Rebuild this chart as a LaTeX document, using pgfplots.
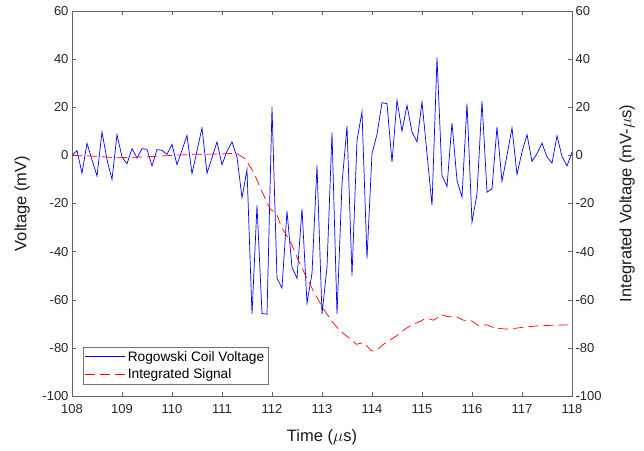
\documentclass[border=0pt]{standalone}
\usepackage{fontspec}
\setmainfont{Liberation Sans}
\usepackage{pgfplots}
\pgfplotsset{compat=1.18}

\pgfplotsset{
  matlabaxis/.style={
    width=500pt, height=385pt, scale only axis,
    xmin=108, xmax=118, ymin=-100, ymax=60,
    ytick={-100,-80,...,60},
    tick align=inside,
    major tick length=4pt,
    axis line style={black!60, line width=0.5pt},
    tick style={black!60, line width=0.5pt},
    /pgf/number format/assume math mode=true,
    ticklabel style={font=\fontsize{13}{15}\selectfont, text=black!85},
    label style={font=\fontsize{16.5}{20}\selectfont, text=black!90},
  }
}

\begin{document}
\begin{tikzpicture}
% left axis: coil voltage
\begin{axis}[
  matlabaxis,
  xtick={108,...,118},
  xtick pos=both,
  ytick pos=left,
  xticklabel style={yshift=-5pt},
  xlabel={Time ($\mu$s)},
  ylabel={Voltage (mV)},
  xlabel style={at={(axis description cs:0.5,-0.1065)}, anchor=center},
  ylabel style={at={(axis description cs:-0.1,0.5)}, anchor=center},
]
\addplot[draw=blue, line width=0.7pt] coordinates {
  (108.0,0) (108.1,2) (108.2,-7.4) (108.3,5) (108.4,-1.8)
  (108.5,-8.6) (108.6,9.7) (108.7,-1.8) (108.8,-10) (108.9,8.6)
  (109.0,-0.7) (109.1,-3.5) (109.2,2.8) (109.3,-1.1) (109.4,2.8)
  (109.5,2.5) (109.6,-4.4) (109.7,2.4) (109.8,2.1) (109.9,0.4)
  (110.0,4.6) (110.1,-3.9) (110.2,2.2) (110.3,8.3) (110.4,-7.6)
  (110.5,1.9) (110.6,11.4) (110.7,-7.4) (110.8,-1) (110.9,5.6)
  (111.0,-3.9) (111.1,1.7) (111.2,5.6) (111.3,-0.7) (111.4,-17.6)
  (111.5,-6) (111.6,-66) (111.7,-20.8) (111.8,-65.7) (111.9,-66)
  (112.0,20.1) (112.1,-51.1) (112.2,-55.1) (112.3,-23.2) (112.4,-46.5)
  (112.5,-51.1) (112.6,-22.2) (112.7,-61.4) (112.8,-49) (112.9,-4.2)
  (113.0,-66) (113.1,-46.5) (113.2,9.4) (113.3,-66) (113.4,-11.8)
  (113.5,12.1) (113.6,-50) (113.7,6.3) (113.8,18.1) (113.9,-42.8)
  (114.0,0.7) (114.1,8.75) (114.2,21.9) (114.3,21.5) (114.4,-2.8)
  (114.5,22.9) (114.6,10.1) (114.7,20.8) (114.8,9.7) (114.9,5.6)
  (115.0,22.2) (115.1,0.7) (115.2,-20.8) (115.3,40.7) (115.4,-8.3)
  (115.5,-12.9) (115.6,13.5) (115.7,-10.4) (115.8,-17.4) (115.9,21.5)
  (116.0,-27.8) (116.1,-16) (116.2,22.5) (116.3,-15.3) (116.4,-13.9)
  (116.5,11.8) (116.6,-10.7) (116.7,0) (116.8,11.4) (116.9,-7.9)
  (117.0,1.4) (117.1,8.6) (117.2,-2.5) (117.3,0.7) (117.4,5.1)
  (117.5,-0.7) (117.6,-3.2) (117.7,8.1) (117.8,-0.4) (117.9,-4.4)
  (118.0,1.4)
};
\end{axis}
% right axis: integrated signal
\begin{axis}[
  matlabaxis,
  axis x line=none,
  axis y line*=right,
  ylabel={Integrated Voltage (mV-$\mu$s)},
  ylabel style={at={(axis description cs:1.11,0.5)}, anchor=center},
  legend cell align=left,
  legend style={at={(axis description cs:0.0214,0.031)}, anchor=south west,
    font=\fontsize{13.7}{16}\selectfont, draw=black!55, line width=0.5pt,
    inner xsep=2pt, inner ysep=1.5pt, row sep=1.5pt,
    nodes={inner sep=2.2pt}},
  legend image code/.code={\draw[#1] (0pt,0.5pt) -- (40pt,0.5pt);},
]
\addlegendimage{draw=blue, line width=0.7pt}
\addlegendentry{Rogowski Coil Voltage}
\addplot[draw=red, line width=0.7pt, dash pattern=on 10pt off 5pt] coordinates {
  (108.0,0) (108.5,-0.4) (108.9,-1) (109.5,-0.6) (110.0,0) (110.4,0.4)
  (111.0,0.6) (111.2,0.8) (111.3,0.8) (111.46,-1.4) (111.63,-6.9)
  (111.79,-14.6) (111.96,-22.2) (112.09,-24.3) (112.19,-29.9) (112.36,-35.4)
  (112.53,-43.75) (112.69,-50.7) (112.86,-57.6) (113.03,-63.9) (113.19,-68.75)
  (113.36,-72.9) (113.53,-75.7) (113.69,-78.5) (113.83,-77.8) (113.99,-81.25)
  (114.09,-81) (114.23,-78.5) (114.36,-76.8) (114.49,-75) (114.66,-72.2)
  (114.83,-70.1) (114.96,-69) (115.09,-67.6) (115.23,-68.5) (115.39,-66.25)
  (115.53,-67.1) (115.69,-67.1) (115.83,-68.5) (115.99,-68.75) (116.13,-70.8)
  (116.29,-70.4) (116.46,-71.8) (116.69,-72.2) (116.89,-71.8) (117.09,-71.25)
  (117.36,-70.8) (117.63,-70.6) (117.96,-70.4) (118.0,-70.4)
};
\addlegendentry{Integrated Signal}
\end{axis}
% page size matching the reference margins
\path (-72pt,-54pt) rectangle (572pt,396pt);
\end{tikzpicture}
\end{document}
